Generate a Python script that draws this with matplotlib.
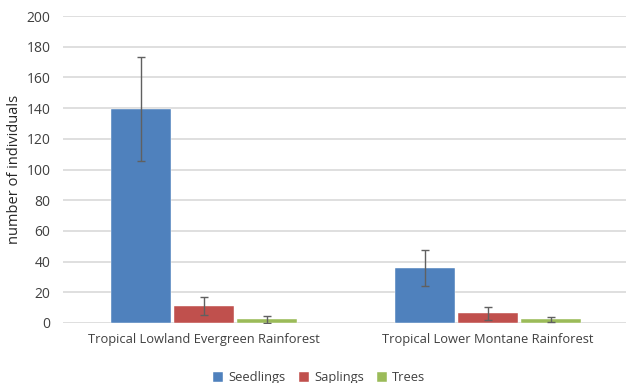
import matplotlib.pyplot as plt
import numpy as np

plt.rcParams["font.family"] = ["Open Sans", "DejaVu Sans"]

categories = ["Tropical Lowland Evergreen Rainforest", "Tropical Lower Montane Rainforest"]
series = ["Seedlings", "Saplings", "Trees"]
means = {
    "Seedlings": [139.5, 35.8],
    "Saplings": [11, 6.2],
    "Trees": [2.3, 2.3],
}
errors = {
    "Seedlings": [34, 11.5],
    "Saplings": [6, 4],
    "Trees": [2, 1.9],
}
colors = ["#4F81BD", "#C0504D", "#9BBB59"]

fig = plt.figure(figsize=(6.26, 3.83), dpi=100)
ax = fig.add_axes([63 / 626, 60 / 383, 563 / 626, 307 / 383])

x = np.arange(len(categories))
width = 0.212
step = 0.223
for i, (name, c) in enumerate(zip(series, colors)):
    ax.bar(x + (i - 1) * step, means[name], width=width, color=c,
           edgecolor="white", linewidth=0.3, label=name, zorder=2)
    ax.errorbar(x + (i - 1) * step, means[name], yerr=errors[name], fmt="none",
                ecolor="#606060", elinewidth=1, capsize=3, capthick=1, zorder=3)

ax.set_xlim(-0.4965, 1.486)
ax.set_ylim(0, 200)
ax.set_yticks(np.arange(0, 201, 20))
ax.yaxis.grid(True, color="#D9D9D9", linewidth=1.2, zorder=0)
ax.set_axisbelow(True)
for s in ax.spines.values():
    s.set_visible(False)
ax.tick_params(axis="y", length=0, labelsize=10, colors="#404040", pad=9)
ax.tick_params(axis="x", length=0, labelsize=9.3, colors="#404040", pad=7)
ax.set_xticks(x)
ax.set_xticklabels(categories)
ax.set_ylabel("number of individuals", fontsize=10.5, color="#262626", labelpad=3)

ax.legend(loc="upper center", bbox_to_anchor=(0.455, -0.12), ncol=3,
          frameon=False, fontsize=9.3, handlelength=0.8, handleheight=0.8,
          handletextpad=0.4, columnspacing=1.0, labelcolor="#404040")

fig.savefig("out.png", dpi=100)
